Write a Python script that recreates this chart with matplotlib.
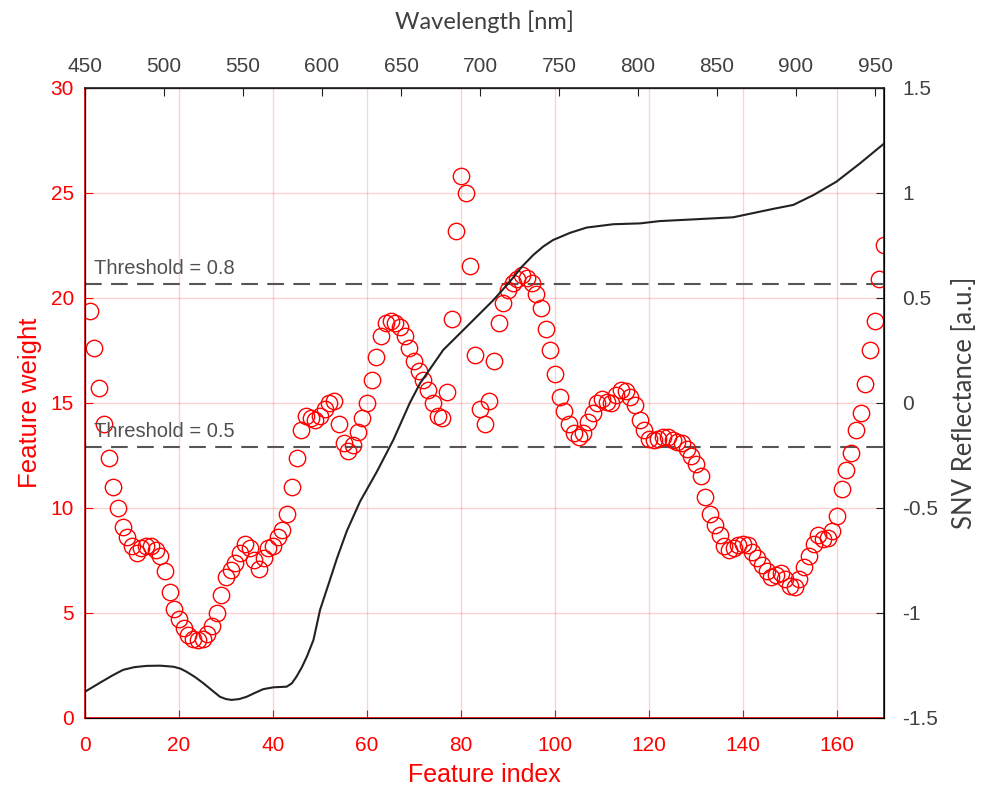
import numpy as np
import matplotlib.pyplot as plt

# Feature weights (left axis), feature index 1..170
feature_idx = np.arange(1, 171)
weights = [
    19.4, 17.6, 15.7, 14.0, 12.4, 11.0, 10.0, 9.1, 8.6, 8.2,
    7.85, 8.1, 8.2, 8.2, 8.0, 7.7, 7.0, 6.0, 5.2, 4.7,
    4.3, 3.95, 3.75, 3.7, 3.75, 4.0, 4.4, 5.0, 5.85, 6.7,
    7.05, 7.4, 7.85, 8.3, 8.1, 7.5, 7.1, 7.6, 8.1, 8.2,
    8.6, 8.95, 9.7, 11.0, 12.4, 13.7, 14.4, 14.3, 14.2, 14.4,
    14.7, 15.0, 15.1, 14.0, 13.1, 12.7, 13.0, 13.6, 14.3, 15.0,
    16.1, 17.2, 18.2, 18.8, 18.9, 18.8, 18.6, 18.2, 17.6, 17.0,
    16.5, 16.1, 15.6, 15.0, 14.4, 14.3, 15.5, 19.0, 23.2, 25.8,
    25.0, 21.5, 17.3, 14.7, 14.0, 15.1, 17.0, 18.8, 19.75, 20.4,
    20.7, 20.9, 21.1, 20.95, 20.7, 20.2, 19.5, 18.5, 17.5, 16.4,
    15.3, 14.6, 14.0, 13.55, 13.4, 13.55, 14.1, 14.5, 15.0, 15.2,
    15.05, 15.0, 15.4, 15.6, 15.55, 15.3, 14.9, 14.2, 13.7, 13.3,
    13.25, 13.3, 13.4, 13.4, 13.25, 13.15, 13.1, 12.8, 12.45, 12.1,
    11.5, 10.5, 9.7, 9.2, 8.7, 8.2, 8.0, 8.1, 8.25, 8.3,
    8.25, 7.9, 7.6, 7.3, 7.0, 6.7, 6.8, 6.9, 6.6, 6.3,
    6.25, 6.6, 7.2, 7.7, 8.3, 8.7, 8.5, 8.55, 8.9, 9.6,
    10.9, 11.8, 12.6, 13.7, 14.5, 15.9, 17.5, 18.9, 20.9, 22.5,
]

# Mean SNV reflectance spectrum (right axis), read at these feature indices
snv_idx = [0, 3.2, 5.8, 8.1, 10.5, 13.1, 16.0, 18.8, 20.3, 21.6,
           23.4, 25.2, 27.0, 28.7, 30.0, 31.2, 32.8, 34.4, 36.2, 37.9,
           40.1, 42.9, 44.0, 45.0, 46.1, 47.2, 48.6, 50.0, 52.0, 53.6,
           55.7, 58.5, 62.1, 65.6, 69.1, 71.3, 76.2, 81.2, 86.9, 90.4,
           93.0, 95.4, 97.5, 99.6, 103.2, 106.7, 112.4, 118.1, 122.3, 129.4,
           137.9, 146.4, 150.7, 155.0, 159.9, 164.9, 170.0]
snv_val = [-1.375, -1.332, -1.298, -1.271, -1.258, -1.252, -1.251, -1.256, -1.265, -1.28,
           -1.305, -1.335, -1.368, -1.399, -1.41, -1.414, -1.41, -1.399, -1.38, -1.363,
           -1.354, -1.351, -1.335, -1.303, -1.26, -1.208, -1.129, -0.986, -0.85, -0.74,
           -0.61, -0.47, -0.327, -0.176, 0.0, 0.094, 0.252, 0.363, 0.49, 0.578,
           0.65, 0.705, 0.745, 0.776, 0.81, 0.835, 0.851, 0.855, 0.866, 0.874,
           0.884, 0.924, 0.943, 0.99, 1.054, 1.141, 1.235]

threshold_fracs = [0.8, 0.5]
wl_ticks = [450, 500, 550, 600, 650, 700, 750, 800, 850, 900, 950]

RED = '#FF0000'
GREY = '#404040'

plt.rcParams['font.family'] = 'Liberation Sans'

fig = plt.figure(figsize=(9.84, 7.95), dpi=100)
ax = fig.add_axes([0.0864, 0.0969, 0.8120, 0.7925])

ax.plot(feature_idx, weights, 'o', mfc='none', mec=RED, ms=11.8, mew=1.0, zorder=3)

wmax = max(weights)
for frac in threshold_fracs:
    ax.axhline(frac * wmax, color='#555555', lw=1.5, dashes=(8, 4.5), zorder=2)
    ax.text(2, frac * wmax + 0.3, f'Threshold = {frac}', color='#505050',
            fontsize=14.5, va='bottom', ha='left')

ax.set_xlim(0, 170)
ax.set_ylim(0, 30)
ax.set_xticks(np.arange(0, 161, 20))
ax.set_yticks(np.arange(0, 31, 5))
ax.grid(True, color=RED, alpha=0.18, lw=1)
ax.tick_params(axis='both', direction='in', colors=RED, labelsize=15, length=6)
ax.tick_params(axis='x', top=True, pad=13)
ax.tick_params(axis='y', right=False, pad=8)
ax.spines['left'].set_color(RED)
ax.spines['bottom'].set_color(RED)
ax.spines['left'].set_linewidth(1.2)
ax.spines['bottom'].set_linewidth(1.2)
ax.set_xlabel('Feature index', color=RED, fontsize=18, labelpad=6)
ax.set_ylabel('Feature weight', color=RED, fontsize=18.5, labelpad=6)

ax2 = ax.twinx()
ax2.plot(snv_idx, snv_val, color='#222222', lw=1.5)
ax2.set_ylim(-1.5, 1.5)
ax2.set_yticks([-1.5, -1, -0.5, 0, 0.5, 1, 1.5])
ax2.set_yticklabels(['-1.5', '-1', '-0.5', '0', '0.5', '1', '1.5'])
ax2.tick_params(axis='y', direction='in', colors='#222222', labelcolor=GREY,
                labelsize=15, length=6, pad=13)
ax2.spines['right'].set_color('#222222')
ax2.spines['right'].set_linewidth(1.2)
ax2.set_ylabel('SNV Reflectance [a.u.]', color=GREY, fontsize=18.5,
               family='Lato', labelpad=10)

ax3 = ax.twiny()
ax3.set_xlim(450, 955.7)
ax3.set_xticks(wl_ticks)
ax3.tick_params(axis='x', direction='in', colors='#222222', labelcolor=GREY,
                labelsize=15, length=6, pad=8.5)
ax3.spines['top'].set_color('#222222')
ax3.spines['top'].set_linewidth(1.2)
ax3.set_xlabel('Wavelength [nm]', color=GREY, fontsize=17,
               family='Lato', labelpad=20)

plt.savefig('out.png', dpi=100)
